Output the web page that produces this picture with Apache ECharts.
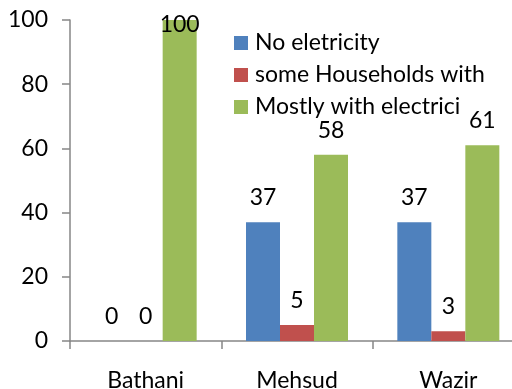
<!DOCTYPE html>
<html>
<head>
<meta charset="utf-8">
<script src="https://cdn.jsdelivr.net/npm/echarts@6/dist/echarts.min.js"></script>
<style>
  html, body { margin: 0; padding: 0; background: #fff; overflow: hidden; }
  #main { width: 524px; height: 389px; }
</style>
</head>
<body>
<div id="main"></div>
<script>
var categories = ['Bathani', 'Mehsud', 'Wazir'];
var noElectricity = [0, 37, 37];
var someHouseholds = [0, 5, 3];
var mostlyElectric = [100, 58, 61];
var yTicks = { min: 0, max: 100, interval: 20 };

var font = 'Lato';
var fs = 23;
var mychart = echarts.init(document.getElementById('main'));

// label a bar above its top, unless it hits the top of the plot
function barData(arr) {
    return arr.map(function (v) {
        if (v >= yTicks.max) {
            return { value: v, label: { position: 'insideTop', distance: -7 } };
        }
        return v;
    });
}

function barSeries(name, arr, color) {
    return {
        name: name,
        type: 'bar',
        barWidth: 34,
        barGap: '0%',
        data: barData(arr),
        itemStyle: { color: color },
        label: {
            show: true,
            position: 'top',
            distance: 13,
            color: '#000',
            fontFamily: font,
            fontSize: fs
        }
    };
}

var option = {
    animation: false,
    grid: { left: 70, right: 0, top: 20, bottom: 48, containLabel: false, outerBoundsMode: 'none' },
    legend: {
        orient: 'vertical',
        left: 234,
        top: 31,
        padding: 0,
        itemWidth: 14,
        itemHeight: 14,
        itemGap: 8,
        icon: 'rect',
        textStyle: { fontFamily: font, fontSize: fs, lineHeight: 24, color: '#000', padding: [0, 0, 0, 2] },
        data: ['No eletricity', 'some Households with', 'Mostly with electrici']
    },
    xAxis: {
        type: 'category',
        data: categories,
        axisLine: { lineStyle: { color: '#868686', width: 1.5 } },
        axisTick: { show: true, length: 8, lineStyle: { color: '#868686', width: 1.5 } },
        axisLabel: { margin: 28, color: '#000', fontFamily: font, fontSize: fs }
    },
    yAxis: {
        type: 'value',
        min: yTicks.min,
        max: yTicks.max,
        interval: yTicks.interval,
        splitLine: { show: false },
        axisLine: { show: true, lineStyle: { color: '#868686', width: 1.5 } },
        axisTick: { show: true, length: 8, lineStyle: { color: '#868686', width: 1.5 } },
        axisLabel: { margin: 22, color: '#000', fontFamily: font, fontSize: fs }
    },
    series: [
        barSeries('No eletricity', noElectricity, '#4F81BD'),
        barSeries('some Households with', someHouseholds, '#C0504D'),
        barSeries('Mostly with electrici', mostlyElectric, '#9BBB59')
    ]
};
mychart.setOption(option);
</script>
</body>
</html>
